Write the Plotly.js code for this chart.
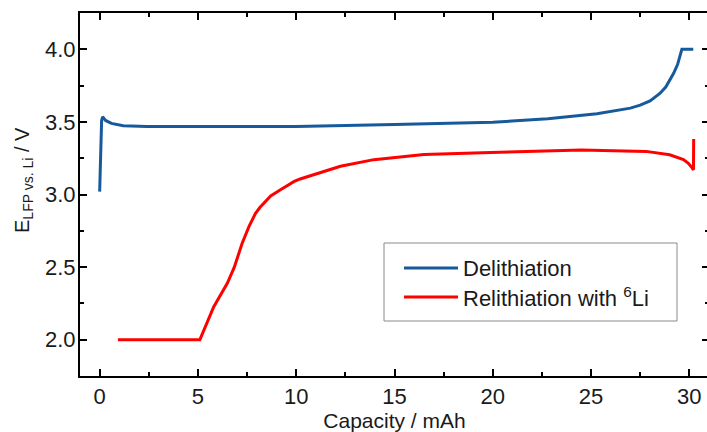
<!DOCTYPE html>
<html>
<head>
<meta charset="utf-8">
<script src="https://cdn.plot.ly/plotly-3.0.1.min.js"></script>
<style>
html, body { margin: 0; padding: 0; overflow: hidden; background: #fff; }
#chart { width: 712px; height: 432px; }
</style>
</head>
<body>
<div id="chart"></div>
<script>
// Delithiation (blue)
var delithCapacity = [0, 0.03, 0.06, 0.1, 0.15, 0.3, 0.6, 1.2, 2.4, 5, 10, 15, 20, 22.8, 25.3, 27, 27.5, 28.0, 28.5, 28.8, 29.0, 29.2, 29.4, 29.5, 29.62, 30.2];
var delithVoltage  = [3.02, 3.2, 3.4, 3.51, 3.535, 3.51, 3.49, 3.474, 3.468, 3.467, 3.468, 3.482, 3.497, 3.522, 3.556, 3.595, 3.615, 3.645, 3.696, 3.74, 3.785, 3.835, 3.895, 3.94, 4.0, 4.0];
// Relithiation with 6Li (red)
var relithCapacity = [0.93, 5.1, 5.8, 6.5, 6.85, 7.25, 7.6, 7.93, 8.15, 8.35, 8.7, 9.2, 9.9, 10.2, 11.2, 12.25, 13.95, 16.5, 19.9, 24.5, 27.8, 29.0, 29.7, 29.95, 30.1, 30.21, 30.22];
var relithVoltage  = [2.0, 2.0, 2.225, 2.39, 2.5, 2.664, 2.78, 2.87, 2.91, 2.94, 2.99, 3.033, 3.09, 3.107, 3.148, 3.194, 3.24, 3.275, 3.29, 3.306, 3.297, 3.274, 3.24, 3.215, 3.19, 3.17, 3.383];

var seriesNames = ['Delithiation', 'Relithiation with <sup>6</sup>Li'];
var seriesColors = ['#175a9c', '#ff0000'];
var xTitle = 'Capacity / mAh';
var yTitle = 'E<sub>LFP vs. Li</sub> / V';

var FONT = 'Liberation Sans, Arial, sans-serif';
var TXT = '#1a1a1a';
var W = 712, H = 432, ML = 80, MR = 3, MT = 13, MB = 56;
var PW = W - ML - MR, PH = H - MT - MB;
function px(x) { return (x - ML) / PW; }
function py(y) { return (H - MB - y) / PH; }

var traces = [
  { x: delithCapacity, y: delithVoltage, mode: 'lines', name: seriesNames[0],
    line: { color: seriesColors[0], width: 3 } },
  { x: relithCapacity, y: relithVoltage, mode: 'lines', name: seriesNames[1],
    line: { color: seriesColors[1], width: 3 } }
];

var axisCommon = {
  showgrid: false, zeroline: false, showline: true, linecolor: '#000', linewidth: 2,
  mirror: 'allticks', ticks: 'inside', ticklen: 7, tickwidth: 2, tickcolor: '#000',
  tickfont: { family: FONT, size: 22, color: TXT }
};

var layout = {
  width: W, height: H,
  margin: { l: ML, r: MR, t: MT, b: MB },
  paper_bgcolor: '#fff', plot_bgcolor: '#fff',
  showlegend: false,
  xaxis: Object.assign({}, axisCommon, {
    range: [-1, 31], dtick: 5, tick0: 0, ticklabelstandoff: 0,
    minor: { dtick: 2.5, ticks: 'inside', ticklen: 4, tickwidth: 2, tickcolor: '#000' },
    title: { text: xTitle, font: { family: FONT, size: 21, color: TXT }, standoff: 5 }
  }),
  yaxis: Object.assign({}, axisCommon, {
    range: [1.75, 4.25], dtick: 0.5, tick0: 2, tickformat: '.1f', ticklabelstandoff: -2,
    minor: { dtick: 0.25, ticks: 'inside', ticklen: 4, tickwidth: 2, tickcolor: '#000' }
  }),
  shapes: [
    { type: 'rect', xref: 'paper', yref: 'paper', x0: px(384), x1: px(677), y0: py(321), y1: py(243),
      line: { color: '#8a8a8a', width: 1 }, fillcolor: '#fff' },
    { type: 'line', xref: 'paper', yref: 'paper', x0: px(404), x1: px(458), y0: py(268), y1: py(268),
      line: { color: seriesColors[0], width: 3 } },
    { type: 'line', xref: 'paper', yref: 'paper', x0: px(404), x1: px(458), y0: py(297), y1: py(297),
      line: { color: seriesColors[1], width: 3 } }
  ],
  annotations: [
    { xref: 'paper', yref: 'paper', x: px(23), y: py(180), xanchor: 'center', yanchor: 'middle',
      textangle: -90, text: yTitle, showarrow: false, font: { family: FONT, size: 20, color: TXT } },
    { xref: 'paper', yref: 'paper', x: px(461), y: py(268), xanchor: 'left', yanchor: 'middle',
      text: seriesNames[0], showarrow: false, font: { family: FONT, size: 22, color: TXT } },
    { xref: 'paper', yref: 'paper', x: px(461), y: py(297), xanchor: 'left', yanchor: 'middle',
      text: seriesNames[1], showarrow: false, font: { family: FONT, size: 22, color: TXT } }
  ]
};

Plotly.newPlot('chart', traces, layout, { staticPlot: true, displayModeBar: false });
</script>
</body>
</html>
